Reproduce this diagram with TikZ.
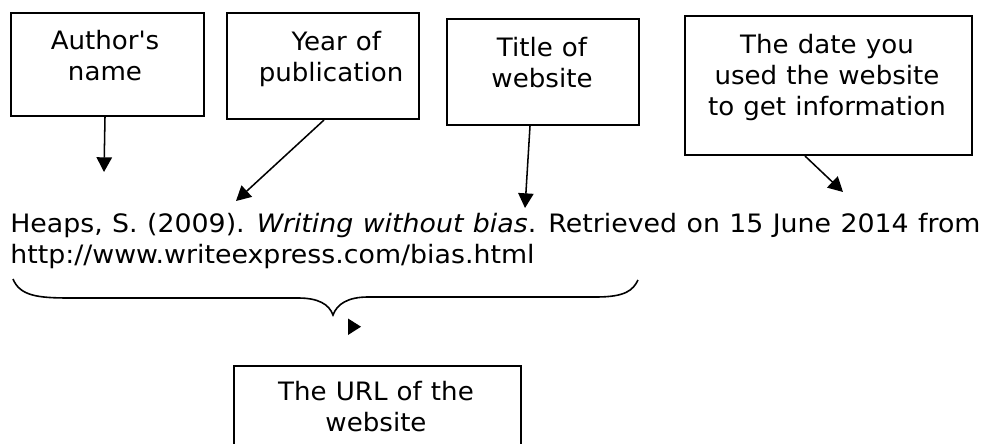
\documentclass[tikz,border=0pt]{standalone}
\usepackage{fontspec}
\setmainfont[FakeStretch=1.03,WordSpace=1.1]{DejaVu Sans}
\newfontfamily\citefont[FakeStretch=1.058,WordSpace=1.1]{DejaVu Sans}
\usetikzlibrary{arrows.meta,calc}
\begin{document}
\begin{tikzpicture}[x=0.75pt,y=-0.75pt,
  box/.style={draw,line width=1.5pt,rectangle,inner sep=0pt,anchor=north west},
  boxtext/.style={anchor=base,align=center,inner sep=0pt,font=\fontsize{19pt}{23.25pt}\selectfont},
  arr/.style={line width=1.15pt,-{Triangle[length=11pt,width=11.5pt]}},
  brace/.style={line width=1.2pt}]
\useasboundingbox (0,0) rectangle (985,443);
\clip (0,0) rectangle (985,443);

% boxes
\node[box,minimum width={193*0.75pt},minimum height={103*0.75pt}] (b1) at (10,12) {};
\node[box,minimum width={192*0.75pt},minimum height={106*0.75pt}] (b2) at (226,12) {};
\node[box,minimum width={192*0.75pt},minimum height={106*0.75pt}] (b3) at (446,18) {};
\node[box,minimum width={287*0.75pt},minimum height={139*0.75pt}] (b4) at (684,15) {};
\node[box,minimum width={287*0.75pt},minimum height={110*0.75pt}] (b5) at (233,365) {};

% box captions (placed by the baseline of their last line)
\node[boxtext] (l1) at (105,80) {Author\textquotesingle s\\name};
\node[boxtext] (l2) at (331,81) {\hspace*{8pt}Year of\\publication};
\node[boxtext] (l3) at (542,87.5) {Title of\\website};
\node[boxtext] (l4) at (827,115.5) {The date you\\used the website\\to get information};
\node[boxtext] (l5) at (376,431.5) {The URL of the\\website};

% the reference entry
\node[anchor=base west,align=left,inner sep=0pt,font=\citefont\fontsize{19pt}{23.25pt}\selectfont] (cite) at (10,263)
  {Heaps, S. (2009). \textit{Writing without bias}. Retrieved on 15 June 2014 from\\http://www.writeexpress.com/bias.html};

% pointers
\coordinate (p1) at (104,172);
\coordinate (p2) at (236,201);
\coordinate (p3) at (525,208);
\coordinate (p4) at (843,192);
\draw[arr] ($(b1.south)+(-2.5,0)$) -- (p1);
\draw[arr] ($(b2.south)+(1,0)$) -- (p2);
\draw[arr] ($(b3.south)+(-13,0)$) -- (p3);
\draw[arr] ($(b4.south)+(-23.5,0)$) -- (p4);

% curly brace under the URL
\draw[brace] (13,279) .. controls (20,296) and (38,298) .. (70,298) -- (298,298)
  .. controls (318,298) and (329,304) .. (333,315)
  .. controls (337,304) and (348,297) .. (368,297) -- (596,297)
  .. controls (626,297) and (633,290) .. (638,280);

% small arrowhead below the brace
\fill (348,318.5) -- (361,326.7) -- (348,335) -- cycle;
\end{tikzpicture}
\end{document}
